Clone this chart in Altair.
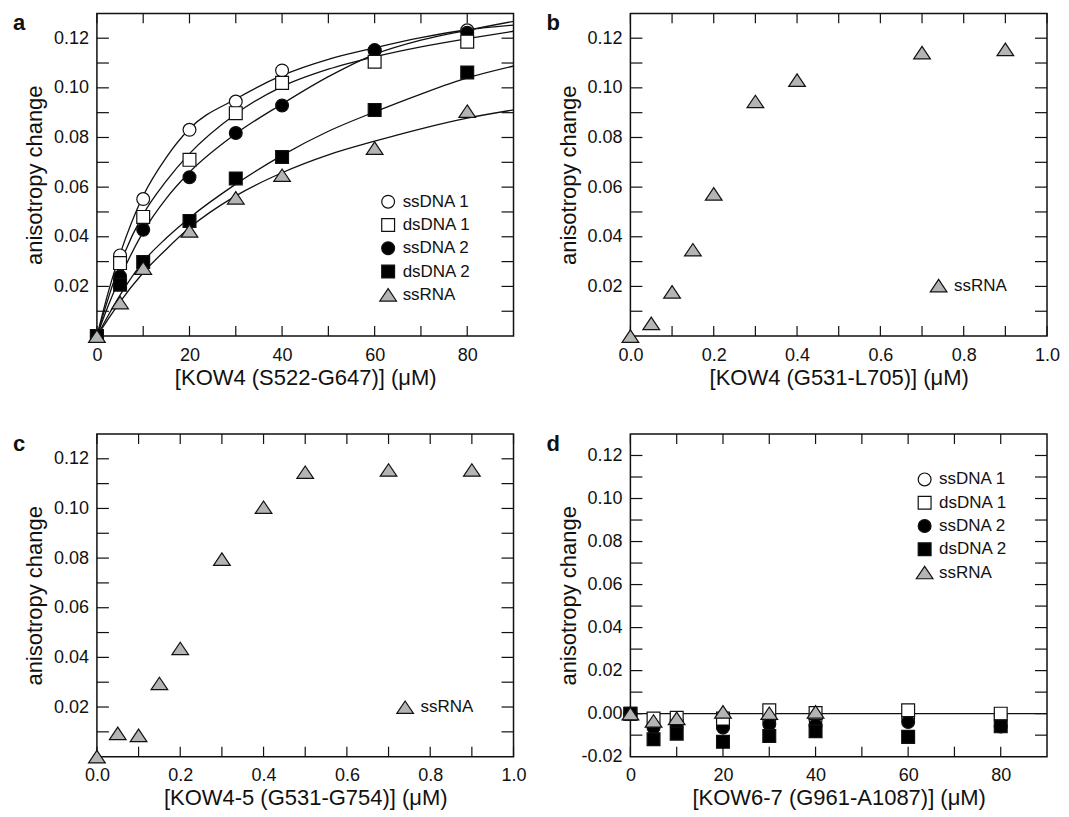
import altair as alt
import pandas as pd

FONT = "Liberation Sans"
INK = "#111111"

SERIES = ["ssDNA 1", "dsDNA 1", "ssDNA 2", "dsDNA 2", "ssRNA"]
DRAW_ORDER = ["ssDNA 1", "ssDNA 2", "dsDNA 1", "dsDNA 2", "ssRNA"]
TRIANGLE = "M0,-0.97L1.3,0.97L-1.3,0.97Z"
SHAPES = ["circle", "square", "circle", "square", TRIANGLE]
FILLS = ["#ffffff", "#ffffff", "#000000", "#000000", "#b4b4b4"]

# ---------------- panel a : KOW4 (S522-G647) ----------------
a_x = [0, 5, 10, 20, 30, 40, 60, 80]
a_ssDNA1 = [0, 0.0325, 0.0552, 0.0831, 0.0945, 0.1070, 0.1150, 0.1232]
a_dsDNA1 = [0, 0.0294, 0.0480, 0.0710, 0.0898, 0.1020, 0.1105, 0.1186]
a_ssDNA2 = [0, 0.0240, 0.0428, 0.0640, 0.0818, 0.0929, 0.1152, 0.1222]
a_dsDNA2 = [0, 0.0207, 0.0298, 0.0464, 0.0635, 0.0721, 0.0911, 0.1062]
a_ssRNA = [0, 0.0135, 0.0274, 0.0424, 0.0557, 0.0648, 0.0757, 0.0906]

# fitted curves in panel a
fit_x = [0, 2.5, 5, 10, 15, 20, 30, 40, 50, 60, 70, 80, 90]
fit_ssDNA1 = [0, 0.0180, 0.0330, 0.0565, 0.0720, 0.0835, 0.0955, 0.1050, 0.1115, 0.1161, 0.1202, 0.1234, 0.1253]
fit_dsDNA1 = [0, 0.0155, 0.0290, 0.0490, 0.0625, 0.0735, 0.0895, 0.1005, 0.1075, 0.1125, 0.1165, 0.1198, 0.1228]
fit_ssDNA2 = [0, 0.0125, 0.0235, 0.0420, 0.0555, 0.0660, 0.0815, 0.0935, 0.1045, 0.1135, 0.1192, 0.1232, 0.1268]
fit_dsDNA2 = [0, 0.0085, 0.0165, 0.0300, 0.0395, 0.0476, 0.0612, 0.0728, 0.0825, 0.0903, 0.0975, 0.1040, 0.1088]
fit_ssRNA = [0, 0.0070, 0.0138, 0.0255, 0.0350, 0.0436, 0.0565, 0.0658, 0.0730, 0.0785, 0.0835, 0.0878, 0.0911]

# ---------------- panel b : KOW4 (G531-L705) ----------------
b_x = [0, 0.05, 0.1, 0.15, 0.2, 0.3, 0.4, 0.7, 0.9]
b_ssRNA = [0, 0.0051, 0.0178, 0.0348, 0.0573, 0.0945, 0.1031, 0.1142, 0.1155]

# ---------------- panel c : KOW4-5 (G531-G754) ----------------
c_x = [0, 0.05, 0.1, 0.15, 0.2, 0.3, 0.4, 0.5, 0.7, 0.9]
c_ssRNA = [0, 0.0094, 0.0086, 0.0295, 0.0436, 0.0796, 0.1005, 0.1146, 0.1155, 0.1155]

# ---------------- panel d : KOW6-7 (G961-A1087) ----------------
d_x = [0, 5, 10, 20, 30, 40, 60, 80]
d_ssDNA1 = [0, -0.0059, -0.0035, -0.0059, -0.0030, -0.0030, -0.0020, -0.0010]
d_dsDNA1 = [0, -0.0023, -0.0019, -0.0023, 0.0016, 0.0003, 0.0016, 0.0000]
d_ssDNA2 = [0, -0.0065, -0.0060, -0.0065, -0.0049, -0.0054, -0.0039, -0.0060]
d_dsDNA2 = [0, -0.0119, -0.0093, -0.0131, -0.0104, -0.0082, -0.0108, -0.0059]
d_ssRNA_x = [0, 5, 10, 20, 30, 40]
d_ssRNA = [0, -0.0034, -0.0022, 0.0008, 0.0002, 0.0008]

# axis tick values
x_ticks_conc = [0, 10, 20, 30, 40, 50, 60, 70, 80]
x_ticks_frac = [0, 0.1, 0.2, 0.3, 0.4, 0.5, 0.6, 0.7, 0.8, 0.9, 1.0]
y_ticks_pos = [0.01, 0.02, 0.03, 0.04, 0.05, 0.06, 0.07, 0.08, 0.09, 0.10, 0.11, 0.12]
y_ticks_d = [-0.01, 0.0, 0.01, 0.02, 0.03, 0.04, 0.05, 0.06, 0.07, 0.08, 0.09, 0.10, 0.11, 0.12]
y_labels_d = [-0.02, -0.01, 0.0, 0.01, 0.02, 0.03, 0.04, 0.05, 0.06, 0.07, 0.08, 0.09, 0.10, 0.11, 0.12]

X_LAB_CONC = "datum.value % 20 == 0 ? format(datum.value, 'd') : ''"
X_LAB_FRAC = "round(datum.value * 10) % 2 == 0 ? format(datum.value, '.1f') : ''"
Y_LAB_POS = "datum.value > 0.005 && round(datum.value * 100) % 2 == 0 ? format(datum.value, '.2f') : ''"
Y_LAB_D = ("round(datum.value * 100) % 2 == 0 ? (datum.value < -0.0001 ? '-' + "
           "format(-datum.value, '.2f') : format(abs(datum.value), '.2f')) : ''")

W, H = 417, 323
TICK_X = 10   # tick length on bottom / top
TICK_L = 12   # tick length on left
TICK_R = 12   # tick length on right


def long_df(xs_by_series, ys_by_series, names):
    rows = []
    for name, xs, ys in zip(names, xs_by_series, ys_by_series):
        for xv, yv in zip(xs, ys):
            rows.append({"x": xv, "y": yv, "series": name})
    df = pd.DataFrame(rows)
    order = [n for n in DRAW_ORDER if n in names]
    df["o"] = df["series"].map({n: i for i, n in enumerate(order)})
    return df.sort_values("o", kind="stable").drop(columns="o").reset_index(drop=True)


AX = dict(domain=False, grid=False, ticks=False,
          labelFont=FONT, labelFontSize=18, labelColor=INK,
          titleFont=FONT, titleFontSize=22, titleFontWeight="normal", titleColor=INK)


def panel(df, names, xdom, ydom, xvals, yvals, ylabvals, xlab, ylab, xtitle, letter,
          leg_x, leg_y, leg_off, extra=None):
    xs = alt.Scale(domain=xdom, nice=False, zero=False)
    ys = alt.Scale(domain=ydom, nice=False, zero=False)
    bottom = alt.Axis(orient="bottom", title=xtitle, values=xvals, labelExpr=xlab,
                      labelPadding=10, minExtent=25, maxExtent=25, titlePadding=6,
                      labelFlush=False, labelOverlap=False, **AX)
    left = alt.Axis(orient="left", title="anisotropy change", values=ylabvals, labelExpr=ylab,
                    labelPadding=8.5, minExtent=40, maxExtent=40, titlePadding=10,
                    labelOverlap=False, **AX)

    xt = pd.DataFrame({"v": xvals})
    yt = pd.DataFrame({"v": yvals})
    tick_style = dict(color=INK, strokeWidth=1.2)
    ticks = [
        alt.Chart(yt).mark_rule(**tick_style).encode(
            y=alt.Y("v:Q", scale=ys, axis=None), x=alt.value(0), x2=alt.value(TICK_L)),
        alt.Chart(yt).mark_rule(**tick_style).encode(
            y=alt.Y("v:Q", scale=ys, axis=None), x=alt.value(W - TICK_R), x2=alt.value(W)),
        alt.Chart(xt).mark_rule(**tick_style).encode(
            x=alt.X("v:Q", scale=xs, axis=None), y=alt.value(H - TICK_X), y2=alt.value(H)),
        alt.Chart(xt).mark_rule(**tick_style).encode(
            x=alt.X("v:Q", scale=xs, axis=None), y=alt.value(0), y2=alt.value(TICK_X)),
    ]

    legend = alt.Legend(orient="none", legendX=leg_x, legendY=leg_y, title=None,
                        labelFont=FONT, labelFontSize=17, labelColor=INK,
                        symbolSize=165, symbolStrokeWidth=1.2, symbolStrokeColor=INK,
                        symbolOpacity=1, rowPadding=4.3, labelOffset=leg_off, padding=0)
    sel_shapes = [SHAPES[SERIES.index(n)] for n in names]
    sel_fills = [FILLS[SERIES.index(n)] for n in names]
    points = alt.Chart(df).mark_point(filled=True, size=165, strokeWidth=1.2,
                                      opacity=1).encode(
        x=alt.X("x:Q", scale=xs, axis=bottom),
        y=alt.Y("y:Q", scale=ys, axis=left),
        shape=alt.Shape("series:N", scale=alt.Scale(domain=names, range=sel_shapes),
                        legend=legend, sort=names),
        fill=alt.Fill("series:N", scale=alt.Scale(domain=names, range=sel_fills),
                      legend=legend, sort=names),
        stroke=alt.Stroke("series:N", scale=alt.Scale(domain=names, range=[INK] * len(names)),
                          legend=legend, sort=names),
    )
    label = alt.Chart(pd.DataFrame({"t": [letter]})).mark_text(
        align="left", baseline="top", font=FONT, fontSize=22, fontWeight="bold", color=INK
    ).encode(text="t:N", x=alt.value(-84), y=alt.value(0))

    layers = list(ticks)
    if extra is not None:
        layers.append(extra(xs, ys))
    layers += [points, label]
    return alt.layer(*layers).resolve_axis(x="independent", y="independent").properties(
        width=W, height=H)


# panel a
df_a = long_df([a_x] * 5, [a_ssDNA1, a_dsDNA1, a_ssDNA2, a_dsDNA2, a_ssRNA], SERIES)
fit_df = long_df([fit_x] * 5, [fit_ssDNA1, fit_dsDNA1, fit_ssDNA2, fit_dsDNA2, fit_ssRNA], SERIES)


def curves(xs, ys):
    return alt.Chart(fit_df).mark_line(interpolate="monotone", color=INK, strokeWidth=1.3).encode(
        x=alt.X("x:Q", scale=xs, axis=None),
        y=alt.Y("y:Q", scale=ys, axis=None),
        detail="series:N",
    )


pa = panel(df_a, SERIES, [0, 90], [0, 0.13], x_ticks_conc, y_ticks_pos, y_ticks_pos,
           X_LAB_CONC, Y_LAB_POS, "[KOW4 (S522-G647)] (\u03bcM)", "a", 283, 180, 6, extra=curves)

# panel b
df_b = long_df([b_x], [b_ssRNA], ["ssRNA"])
pb = panel(df_b, ["ssRNA"], [0, 1.0], [0, 0.13], x_ticks_frac, y_ticks_pos, y_ticks_pos,
           X_LAB_FRAC, Y_LAB_POS, "[KOW4 (G531-L705)] (\u03bcM)", "b", 300, 264, 7)

# panel c
df_c = long_df([c_x], [c_ssRNA], ["ssRNA"])
pc = panel(df_c, ["ssRNA"], [0, 1.0], [0, 0.13], x_ticks_frac, y_ticks_pos, y_ticks_pos,
           X_LAB_FRAC, Y_LAB_POS, "[KOW4-5 (G531-G754)] (\u03bcM)", "c", 300, 265, 7)

# panel d
df_d = long_df([d_x, d_x, d_x, d_x, d_ssRNA_x],
               [d_ssDNA1, d_dsDNA1, d_ssDNA2, d_dsDNA2, d_ssRNA], SERIES)
zero_df = pd.DataFrame({"y": [0.0]})


def zero_line(xs, ys):
    return alt.Chart(zero_df).mark_rule(color=INK, strokeWidth=1.2).encode(
        y=alt.Y("y:Q", scale=ys, axis=None)
    )


pdd = panel(df_d, SERIES, [0, 90], [-0.02, 0.13], x_ticks_conc, y_ticks_d, y_labels_d,
            X_LAB_CONC, Y_LAB_D, "[KOW6-7 (G961-A1087)] (\u03bcM)", "d", 286, 37, 6,
            extra=zero_line)

chart = alt.concat(
    pa, pb, pc, pdd, columns=2, spacing={"row": 98, "column": 117}, bounds="flush"
).resolve_scale(
    shape="independent", fill="independent", stroke="independent"
).resolve_legend(
    shape="independent", fill="independent", stroke="independent"
).configure_view(
    stroke=INK, strokeWidth=1.5
).properties(
    padding={"left": 4, "top": 3, "right": 0, "bottom": 0}, background="white"
)

chart.save("out.html", embed_options={"renderer": "svg", "actions": False})
